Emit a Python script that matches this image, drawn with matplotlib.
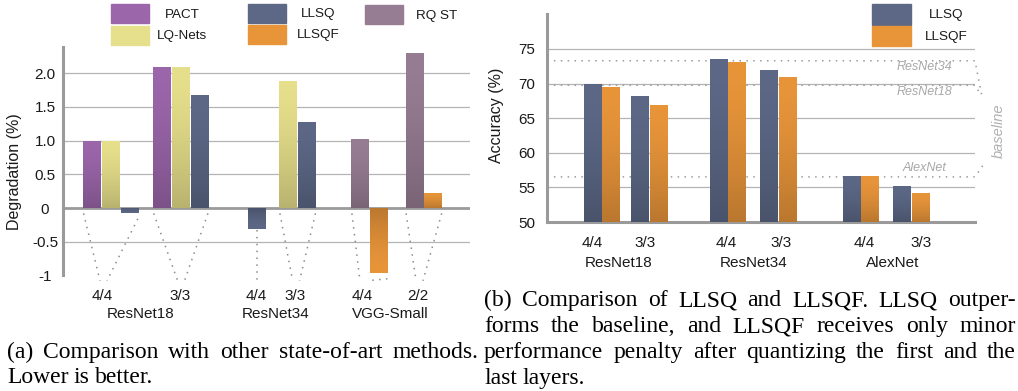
import numpy as np
import matplotlib
matplotlib.use('Agg')
import matplotlib.pyplot as plt
import matplotlib.colors as mcolors
from matplotlib.patches import Rectangle

plt.rcParams['font.family'] = ['Liberation Sans', 'DejaVu Sans']

# ---- data: (a) degradation vs other methods ----
left_models = ['ResNet18', 'ResNet34', 'VGG-Small']
left_bits = ['4/4', '3/3', '4/4', '3/3', '4/4', '2/2']
left_methods = ['PACT', 'LQ-Nets', 'LLSQ', 'RQ ST', 'LLSQF']
pact = [1.0, 2.1, None, None, None, None]
lq_nets = [1.0, 2.1, None, 1.89, None, None]
llsq_deg = [-0.08, 1.68, -0.31, 1.28, None, None]
rq_st = [None, None, None, None, 1.02, 2.3]
llsqf_deg = [None, None, None, None, -0.97, 0.23]

# ---- data: (b) LLSQ vs LLSQF accuracy ----
right_models = ['ResNet18', 'ResNet34', 'AlexNet']
right_bits = ['4/4', '3/3', '4/4', '3/3', '4/4', '3/3']
llsq_acc = [70.0, 68.2, 73.6, 72.0, 56.7, 55.25]
llsqf_acc = [69.55, 66.85, 73.05, 70.95, 56.6, 54.2]
baseline_names = ['ResNet34', 'ResNet18', 'AlexNet']
baseline_acc = [73.3, 69.76, 56.52]

colors = {'PACT': '#9b66aa', 'LQ-Nets': '#e6df8b', 'LLSQ': '#5c6886',
          'LLSQF': '#e8953a', 'RQ ST': '#977d93'}

# layout (bar-width units)
left_pos = [2.55, 6.3, 10.35, 12.55, 16.4, 19.3]
left_tick_pos = [2.1, 6.25, 10.35, 12.4, 16.0, 19.0]
right_pos = [2.95, 5.54, 9.76, 12.51, 16.95, 19.7]
right_tick_pos = [2.43, 5.3, 9.68, 12.65, 17.14, 20.22]

W, H = 1018, 391
fig = plt.figure(figsize=(W / 100, H / 100), dpi=100)
TXT = '#1a1a1a'
GRID = '#b4b4b4'
SPINE = '#9a9a9a'
DOT = (0, (1, 3.5))


def box(x0, y0, x1, y1):
    return [x0 / W, 1 - y1 / H, (x1 - x0) / W, (y1 - y0) / H]


def shade(ax, bars, color):
    # darker towards the bar base, like the keynote fill
    rgb = np.array(mcolors.to_rgb(color))
    t = np.linspace(0, 1, 100)[:, None]
    k = 1 - 0.2 * (1 - t) ** 1.6
    img = rgb[None, None, :] * k[:, :, None]
    for b in bars:
        x0, w = b.get_x(), b.get_width()
        y0, h = b.get_y(), b.get_height()
        lo, hi = min(y0, y0 + h), max(y0, y0 + h)
        im = ax.imshow(img, extent=(x0, x0 + w, lo, hi),
                       origin='lower' if h > 0 else 'upper',
                       aspect='auto', interpolation='bilinear', zorder=3)
        im.set_clip_path(b)


# ================= (a) =================
axL = fig.add_axes(box(63, 47, 470, 275.4))
series = {'PACT': pact, 'LQ-Nets': lq_nets, 'LLSQ': llsq_deg,
          'RQ ST': rq_st, 'LLSQF': llsqf_deg}

edges = []
xs = {m: [] for m in left_methods}
vs = {m: [] for m in left_methods}
for i, c in enumerate(left_pos):
    present = [m for m in left_methods if series[m][i] is not None]
    n = len(present)
    start = c - n / 2
    for j, m in enumerate(present):
        xs[m].append(start + j + 0.5)
        vs[m].append(series[m][i])
    edges.append((start, start + n, series[present[0]][i], series[present[-1]][i], n))

for m in left_methods:
    bars = axL.bar(xs[m], vs[m], width=0.95, color=colors[m], zorder=3)
    shade(axL, bars, colors[m])

for y in [-0.5, 0.5, 1.0, 1.5, 2.0]:
    axL.axhline(y, color=GRID, lw=0.9, zorder=1)
axL.axhline(0, color=SPINE, lw=2.0, zorder=2)

# dotted connectors to tick labels
for (x0, x1, v0, v1, n), tx in zip(edges, left_tick_pos):
    if n == 1:
        axL.plot([tx, tx], [min(0, v0) - 0.02, -1.08], ls=DOT, color='#8c8c8c',
                 lw=1.1, clip_on=False, zorder=2)
        continue
    axL.plot([x0 + 0.05, tx - 0.12], [min(0, v0) - 0.08, -1.08], ls=DOT,
             color='#8c8c8c', lw=1.1, clip_on=False, zorder=2)
    axL.plot([x1 - 0.05, tx + 0.25], [min(0, v1) - 0.08, -1.08], ls=DOT,
             color='#8c8c8c', lw=1.1, clip_on=False, zorder=2)

for tx, lab in zip(left_tick_pos, left_bits):
    axL.text(tx, -1.31, lab, ha='center', va='center', fontsize=11,
             color=TXT, clip_on=False)
for k, name in enumerate(left_models):
    gx = (left_tick_pos[2 * k] + left_tick_pos[2 * k + 1]) / 2
    axL.text(gx, -1.58, name, ha='center', va='center', fontsize=11,
             color=TXT, clip_on=False)

axL.set_xlim(0, 407 / 18.7)
axL.set_ylim(-1, 2.39)
axL.set_xticks([])
axL.set_yticks([-1, -0.5, 0, 0.5, 1.0, 1.5, 2.0])
axL.set_yticklabels(['-1', '-0.5', '0', '0.5', '1.0', '1.5', '2.0'])
axL.tick_params(axis='y', length=0, pad=13, labelsize=11, labelcolor=TXT)
for lbl in axL.get_yticklabels():
    lbl.set_ha('center')
for s in ['top', 'right', 'bottom']:
    axL.spines[s].set_visible(False)
axL.spines['left'].set_color(SPINE)
axL.spines['left'].set_linewidth(2.2)
fig.text(15 / W, 1 - 172 / H, 'Degradation (%)', rotation=90, ha='center',
         va='center', fontsize=11.5, color=TXT)

# ================= (b) =================
axR = fig.add_axes(box(547, 14.4, 975, 222))
b1 = axR.bar(np.array(right_pos) - 0.5, np.array(llsq_acc) - 50, bottom=50,
             width=0.95, color=colors['LLSQ'], zorder=3)
b2 = axR.bar(np.array(right_pos) + 0.5, np.array(llsqf_acc) - 50, bottom=50,
             width=0.95, color=colors['LLSQF'], zorder=3)
shade(axR, b1, colors['LLSQ'])
shade(axR, b2, colors['LLSQF'])

for y in [55, 60, 65, 70, 75]:
    axR.axhline(y, color=GRID, lw=0.9, zorder=1)

xr = 428 / 18.5
label_off = [-0.86, -0.93, 1.35]
joint_y = [68.3, 68.3, 58.2]
joint_x = [23.5, 23.47, 23.57]
for name, b, off, jx, jy in zip(baseline_names, baseline_acc, label_off, joint_x, joint_y):
    axR.plot([0, xr, jx], [b, b, jy], ls=DOT, color='#9c9c9c', lw=1.1,
             clip_on=False, zorder=2)
    axR.text(20.4, b + off, name, ha='center', va='center', style='italic',
             fontsize=9, color='#a8a8a8')
axR.text(24.43, 63.2, 'baseline', rotation=90, ha='center', va='center',
         style='italic', fontsize=10.5, color='#b0b0b0', clip_on=False)

for tx, lab in zip(right_tick_pos, right_bits):
    axR.text(tx, 47.02, lab, ha='center', va='center', fontsize=11,
             color=TXT, clip_on=False)
for k, name in enumerate(right_models):
    gx = (right_tick_pos[2 * k] + right_tick_pos[2 * k + 1]) / 2
    axR.text(gx, 44.06, name, ha='center', va='center', fontsize=11,
             color=TXT, clip_on=False)

axR.set_xlim(0, xr)
axR.set_ylim(50, 80)
axR.set_xticks([])
axR.set_yticks([50, 55, 60, 65, 70, 75])
axR.tick_params(axis='y', length=0, pad=14.8, labelsize=11, labelcolor=TXT)
for lbl in axR.get_yticklabels():
    lbl.set_ha('center')
for s in ['top', 'right']:
    axR.spines[s].set_visible(False)
for s in ['left', 'bottom']:
    axR.spines[s].set_color(SPINE)
    axR.spines[s].set_linewidth(2.2)
fig.text(497 / W, 1 - 115 / H, 'Accuracy (%)', rotation=90, ha='center',
         va='center', fontsize=11.5, color=TXT)


# ---- legends (drawn by hand, labels centred) ----
def legend_item(label, x, y, w, h, tx):
    fig.add_artist(Rectangle((x / W, 1 - (y + h) / H), w / W, h / H,
                             transform=fig.transFigure, color=colors[label]))
    fig.text(tx / W, 1 - (y + h / 2 + 1) / H, label, ha='center', va='center',
             fontsize=9.7, color=TXT)


legend_item('PACT', 111, 4, 38, 19, 182)
legend_item('LQ-Nets', 111, 26, 38, 18.5, 182)
legend_item('LLSQ', 248, 4, 38, 19, 318)
legend_item('LLSQF', 248, 25, 38, 18.5, 318)
legend_item('RQ ST', 365, 5, 38, 19, 437)
legend_item('LLSQ', 872, 4, 39, 20.5, 946)
legend_item('LLSQF', 872, 25.7, 39, 20, 946)

# ---- captions (justified word by word) ----
CAP = 17
renderer = fig.canvas.get_renderer()


def caption_line(text, x0, x1, base, justify=True):
    words = text.split(' ')
    ts = [fig.text(0, 0, w, fontsize=CAP, family='Liberation Serif',
                   va='baseline', color='black') for w in words]
    widths = [t.get_window_extent(renderer).width for t in ts]
    if justify and len(ts) > 1:
        gap = (x1 - x0 - sum(widths)) / (len(ts) - 1)
    else:
        gap = 0.22 * CAP * 100 / 72
    x = x0
    for t, wd in zip(ts, widths):
        t.set_position((x / W, 1 - base / H))
        x += wd + gap


caption_line('(a) Comparison with other state-of-art methods.', 7, 478, 358)
caption_line('Lower is better.', 7, 478, 383, justify=False)
caption_line('(b) Comparison of LLSQ and LLSQF. LLSQ outper-', 484, 1016, 306)
caption_line('forms the baseline, and LLSQF receives only minor', 484, 1016, 332)
caption_line('performance penalty after quantizing the first and the', 484, 1016, 358)
caption_line('last layers.', 484, 1016, 384, justify=False)

fig.savefig('out.png', dpi=100)
